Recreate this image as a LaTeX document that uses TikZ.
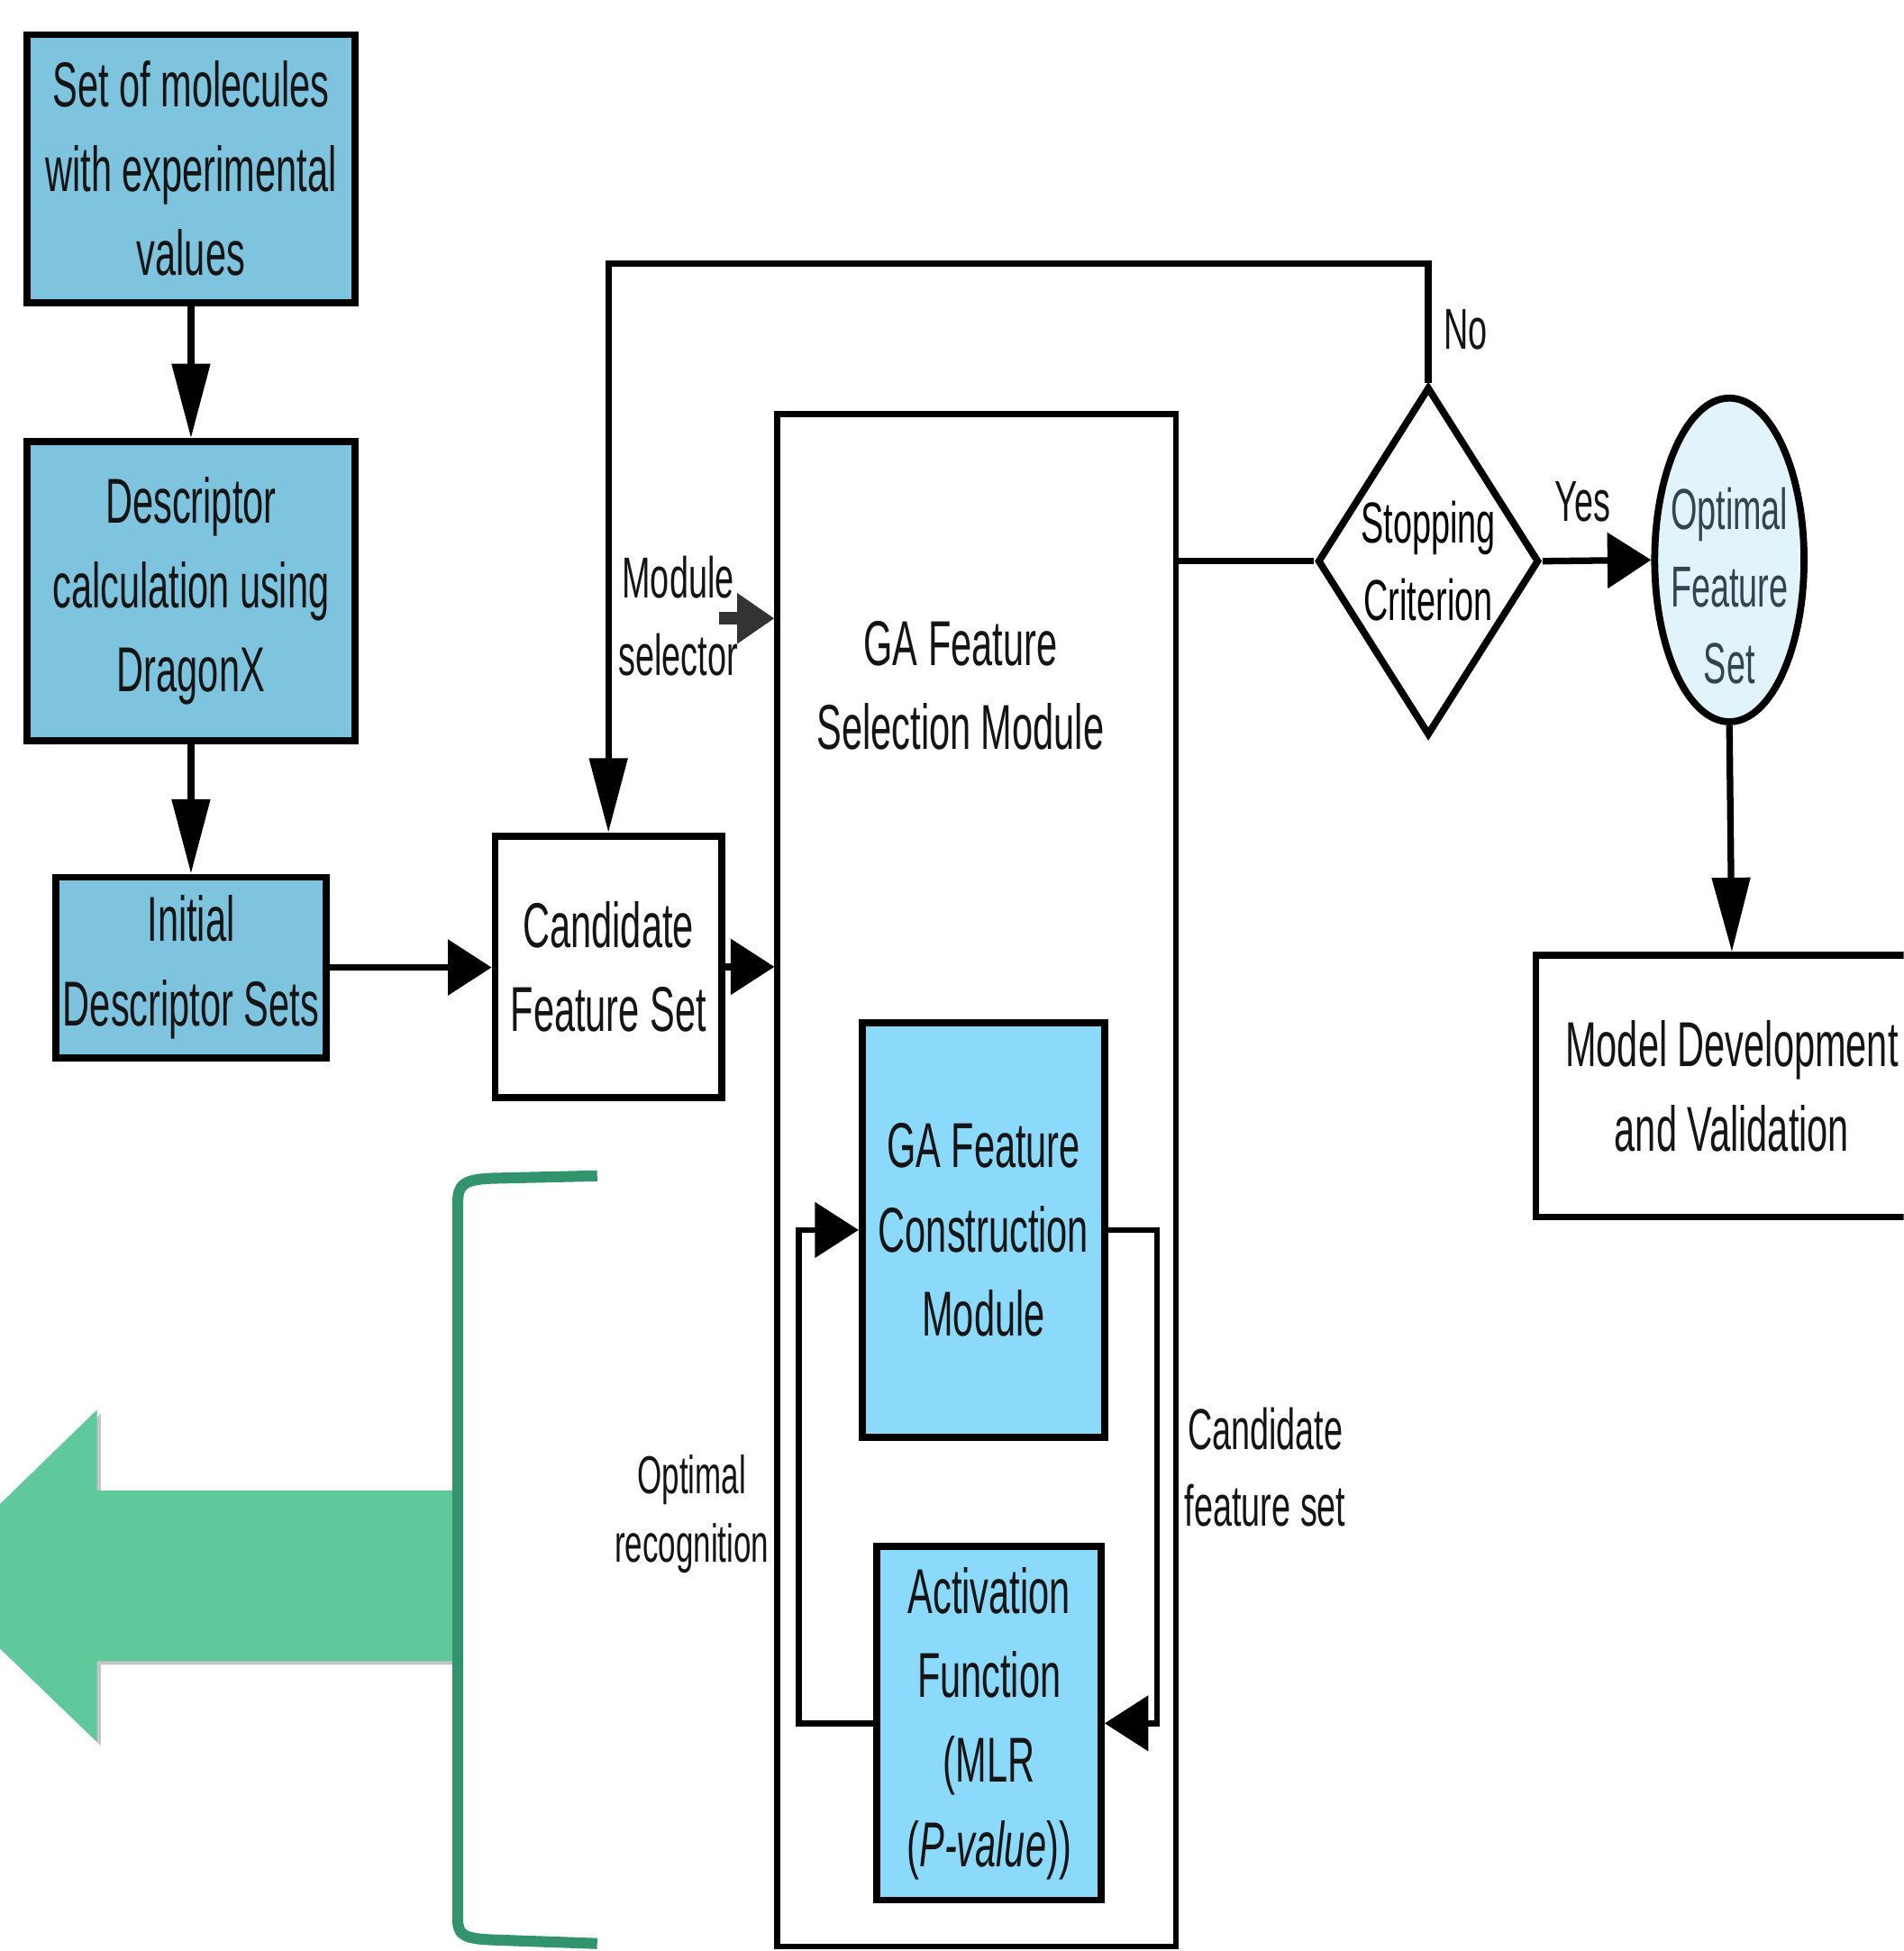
\documentclass[tikz,border=0pt]{standalone}
\usepackage{fontspec}
\setmainfont{Liberation Sans}[FakeStretch=0.59]
\usetikzlibrary{arrows.meta,shapes.geometric}
\definecolor{boxblue}{HTML}{7EC4DE}
\definecolor{cyanbox}{HTML}{8BDAFC}
\definecolor{ellfill}{HTML}{E1F4FC}
\definecolor{elltext}{HTML}{2F4550}
\definecolor{greenfill}{HTML}{5FC99C}
\definecolor{brackcol}{HTML}{32946D}
\definecolor{modgray}{HTML}{333333}
\newcommand\mainsz{\fontsize{14.5}{19.3}\selectfont}
\newcommand\smallsz{\fontsize{13.2}{17.6}\selectfont}
\newcommand\tinysz{\fontsize{12.2}{15.7}\selectfont}
\begin{document}
\begin{tikzpicture}[x=0.01cm,y=-0.01cm,
  bluebox/.style={draw=black, line width=1.6pt, fill=boxblue, inner sep=0pt, align=center, font=\mainsz, text=black!92},
  cyanbx/.style={draw=black, line width=1.6pt, fill=cyanbox, inner sep=0pt, align=center, font=\mainsz, text=black!92},
  whitebox/.style={draw=black, line width=1.6pt, fill=white, inner sep=0pt, align=center, font=\mainsz, text=black!92},
  lbl/.style={inner sep=0pt, align=center, font=\smallsz, text=black!92},
  conn/.style={draw=black, line width=1.5pt},
  varr/.style={conn, -{Triangle[length=17pt,width=8.5pt]}},
  harr/.style={conn, -{Triangle[length=10pt,width=12.5pt]}},
]
\useasboundingbox (0,0) rectangle (1530,1568);
\clip (0,0) rectangle (1530,1568);

% green arrow and bracket
\fill[black!45, opacity=0.5] (369,1201) -- (81,1201) -- (81,1136) -- (-57,1270) -- (81,1403) -- (81,1338) -- (369,1338) -- cycle;
\fill[greenfill] (365,1198) -- (78,1198) -- (78,1133) -- (-60,1267) -- (78,1400) -- (78,1335) -- (365,1335) -- cycle;
\draw[brackcol, line width=2.5pt] (480,945) -- (395,947) .. controls (373,948) and (368,952) .. (368,966) -- (368,1543) .. controls (368,1555) and (373,1558) .. (395,1559) -- (480,1562);

% nodes
\node[bluebox, minimum width=2.63cm, minimum height=2.15cm] (b1) at (153.5,135.5) {Set of molecules\\with experimental\\values};
\node[bluebox, minimum width=2.63cm, minimum height=2.40cm] (b2) at (153.5,475) {Descriptor\\calculation using\\DragonX};
\node[bluebox, minimum width=2.17cm, minimum height=1.45cm] (b3) at (153.5,777.5) {Initial\\Descriptor Sets};
\node[whitebox, minimum width=1.82cm, minimum height=2.10cm] (cand) at (489,777) {Candidate\\Feature Set};
\node[draw=black, line width=1.4pt, minimum width=3.20cm, minimum height=12.31cm, inner sep=0pt] (ga) at (785,948.5) {};
\node[lbl, font=\mainsz] (gatext) at (772,551) {GA Feature\\Selection Module};
\node[cyanbx, minimum width=1.95cm, minimum height=3.33cm] (cons) at (790.5,988.5) {GA Feature\\Construction\\Module};
\node[cyanbx, minimum width=1.80cm, minimum height=2.84cm] (act) at (795,1385) {Activation\\Function\\(MLR\\(\textit{P-value}))};
\node[draw=black, line width=1.6pt, fill=white, diamond, aspect=0.636, minimum width=1.78cm, minimum height=2.80cm, inner sep=0pt, align=center, font=\smallsz] (dia) at (1148,451) {Stopping\\Criterion};
\node[draw=black, line width=1.6pt, fill=ellfill, ellipse, minimum width=1.20cm, minimum height=2.60cm, inner sep=0pt] (ell) at (1390,450) {};
\node[lbl, text=elltext] (elltxt) at (1390,471) {Optimal\\Feature\\Set};
\node[whitebox, minimum width=3.15cm, minimum height=2.10cm] (model) at (1392,873) {Model Development\\and Validation};

% labels
\node[lbl] (msel) at (545,495) {Module\\selector};
\node[lbl] (nolbl) at (1178,265) {No};
\node[lbl] (yeslbl) at (1272,403) {Yes};
\node[lbl] (cfs) at (1017,1179) {Candidate\\feature set};
\node[lbl, font=\tinysz] (optrec) at (556,1217) {Optimal\\recognition};

% connectors
\draw[varr] (b1.south) -- (b2.north);
\draw[varr] (b2.south) -- (b3.north);
\draw[harr] (b3.east) -- (cand.west |- b3.east);
\draw[harr] (cand.east) -- (cand.east -| ga.west);
\coordinate (topy) at (0,212);
\draw[varr] (dia.north) -- (dia.north |- topy) -| (cand.north);
\draw[conn] (dia.west -| ga.east) -- (dia.west);
\draw[harr] (dia.east) -- (ell.west);
\draw[varr] (ell.south) -- (model.north);
\coordinate (ms) at (578,497);
\draw[modgray, line width=2.8pt, -{Triangle[length=8.5pt,width=11pt]}] (ms) -- (ms -| ga.west);
\draw[harr, line width=1.3pt] (cons.east) -- ++(39,0) |- (act.east);
\draw[harr, line width=1.3pt] (act.west) -- ++(-60,0) |- (cons.west);
\end{tikzpicture}
\end{document}
